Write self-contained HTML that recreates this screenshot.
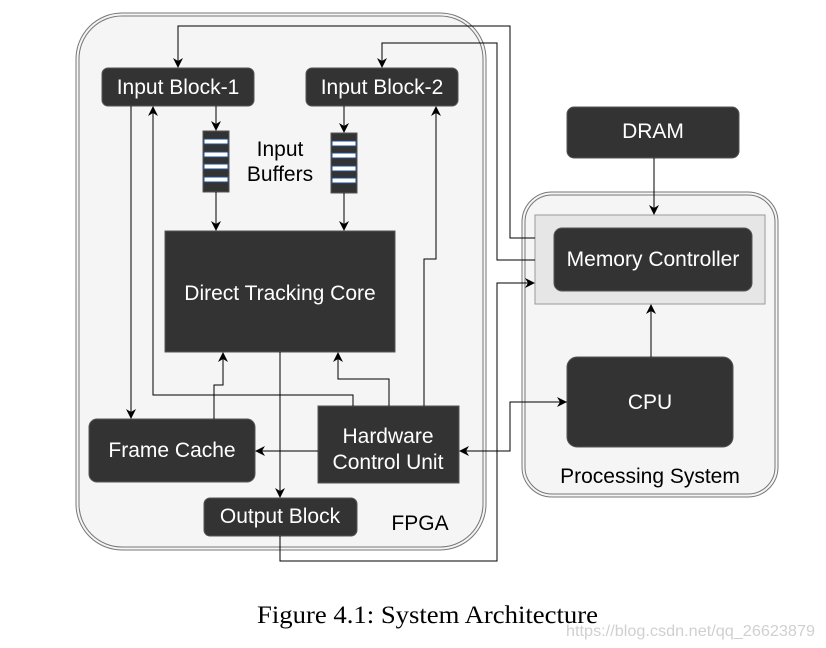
<!DOCTYPE html>
<html><head><meta charset="utf-8"><style>
html,body{margin:0;padding:0;background:#fff;}
svg{display:block;}
text{font-family:"Liberation Sans",sans-serif;}
</style></head><body>
<svg width="826" height="648" viewBox="0 0 826 648" xmlns="http://www.w3.org/2000/svg">
<defs>
<marker id="a" markerWidth="10" markerHeight="10" refX="9" refY="5" orient="auto" markerUnits="userSpaceOnUse">
<path d="M0,0 L10,5 L0,10 L3,5 z" fill="#000"/></marker>
</defs>
<rect x="76" y="13" width="410" height="537" rx="46" fill="#f5f5f5" stroke="#777" stroke-width="1"/>
<rect x="79" y="16" width="404" height="531" rx="43" fill="none" stroke="#777" stroke-width="1"/>
<rect x="522" y="192" width="256" height="305" rx="30" fill="#f5f5f5" stroke="#777" stroke-width="1"/>
<rect x="525" y="195" width="250" height="299" rx="27" fill="none" stroke="#777" stroke-width="1"/>
<rect x="535" y="215" width="230" height="89" fill="#e6e6e6" stroke="#999" stroke-width="1"/>

<g fill="#333" stroke="#555" stroke-width="1">
<rect x="102" y="68" width="152" height="38" rx="6"/>
<rect x="306" y="68" width="152" height="38" rx="6"/>
<rect x="165" y="231" width="230" height="121"/>
<rect x="89" y="419" width="166" height="63" rx="8"/>
<rect x="318" y="406" width="141" height="77"/>
<rect x="204" y="498" width="153" height="38" rx="6"/>
<rect x="567" y="107" width="172" height="51" rx="7"/>
<rect x="554" y="228" width="198" height="63" rx="8"/>
<rect x="567" y="357" width="166" height="90" rx="10"/>
<rect x="203" y="131" width="26" height="61"/>
<rect x="331" y="133" width="26" height="60"/>
</g>
<g fill="#fff" stroke="#1f4e8c" stroke-width="1">
<rect x="204" y="139" width="24" height="5"/><rect x="204" y="152" width="24" height="5"/>
<rect x="204" y="164" width="24" height="5"/><rect x="204" y="177" width="24" height="5"/>
<rect x="332" y="141" width="24" height="5"/><rect x="332" y="153" width="24" height="5"/>
<rect x="332" y="166" width="24" height="5"/><rect x="332" y="178" width="24" height="5"/>
</g>

<g fill="none" stroke="#000" stroke-width="1">
<polyline points="535,238 510,238 510,26 178,26 178,67" marker-end="url(#a)"/>
<polyline points="535,260 497,260 497,43 382,43 382,67" marker-end="url(#a)"/>
<polyline points="280,536 280,561 497,561 497,283 534,283" marker-end="url(#a)"/>
<line x1="216" y1="106" x2="216" y2="130" marker-end="url(#a)"/>
<line x1="216" y1="192" x2="216" y2="230" marker-end="url(#a)"/>
<line x1="344" y1="106" x2="344" y2="132" marker-end="url(#a)"/>
<line x1="344" y1="193" x2="344" y2="230" marker-end="url(#a)"/>
<line x1="131" y1="106" x2="131" y2="418" marker-end="url(#a)"/>
<polyline points="353,406 353,395 153,395 153,107" marker-end="url(#a)"/>
<polyline points="389,406 389,379 338,379 338,353" marker-end="url(#a)"/>
<polyline points="424,406 424,259 436,259 436,107" marker-end="url(#a)"/>
<polyline points="214,419 214,385 223,385 223,353" marker-end="url(#a)"/>
<line x1="318" y1="451" x2="256" y2="451" marker-end="url(#a)"/>
<line x1="280" y1="352" x2="280" y2="497" marker-end="url(#a)"/>
<polyline points="567,402 510,402 510,451 460,451" marker-end="url(#a)"/>
<line x1="510" y1="402" x2="566" y2="402" marker-end="url(#a)"/>
<line x1="654" y1="158" x2="654" y2="214" marker-end="url(#a)"/>
<line x1="651" y1="357" x2="651" y2="305" marker-end="url(#a)"/>
</g>

<g fill="#fff" font-size="21" text-anchor="middle">
<text x="178" y="94">Input Block-1</text>
<text x="382" y="94">Input Block-2</text>
<text x="280" y="300">Direct Tracking Core</text>
<text x="172" y="457">Frame Cache</text>
<text x="388" y="443">Hardware</text>
<text x="388" y="469">Control Unit</text>
<text x="280" y="523">Output Block</text>
<text x="653" y="138">DRAM</text>
<text x="653" y="266">Memory Controller</text>
<text x="650" y="409">CPU</text>
</g>
<g fill="#000" font-size="21" text-anchor="middle">
<text x="280" y="156">Input</text>
<text x="280" y="181">Buffers</text>
<text x="420" y="530">FPGA</text>
<text x="650" y="483">Processing System</text>
</g>
<text x="257" y="623" font-size="25" textLength="341" lengthAdjust="spacingAndGlyphs" style="font-family:'Liberation Serif',serif">Figure 4.1: System Architecture</text>
<text x="566" y="636" font-size="16" fill="#d0d0d0" textLength="249" lengthAdjust="spacingAndGlyphs">https://blog.csdn.net/qq_26623879</text>
</svg>
</body></html>
